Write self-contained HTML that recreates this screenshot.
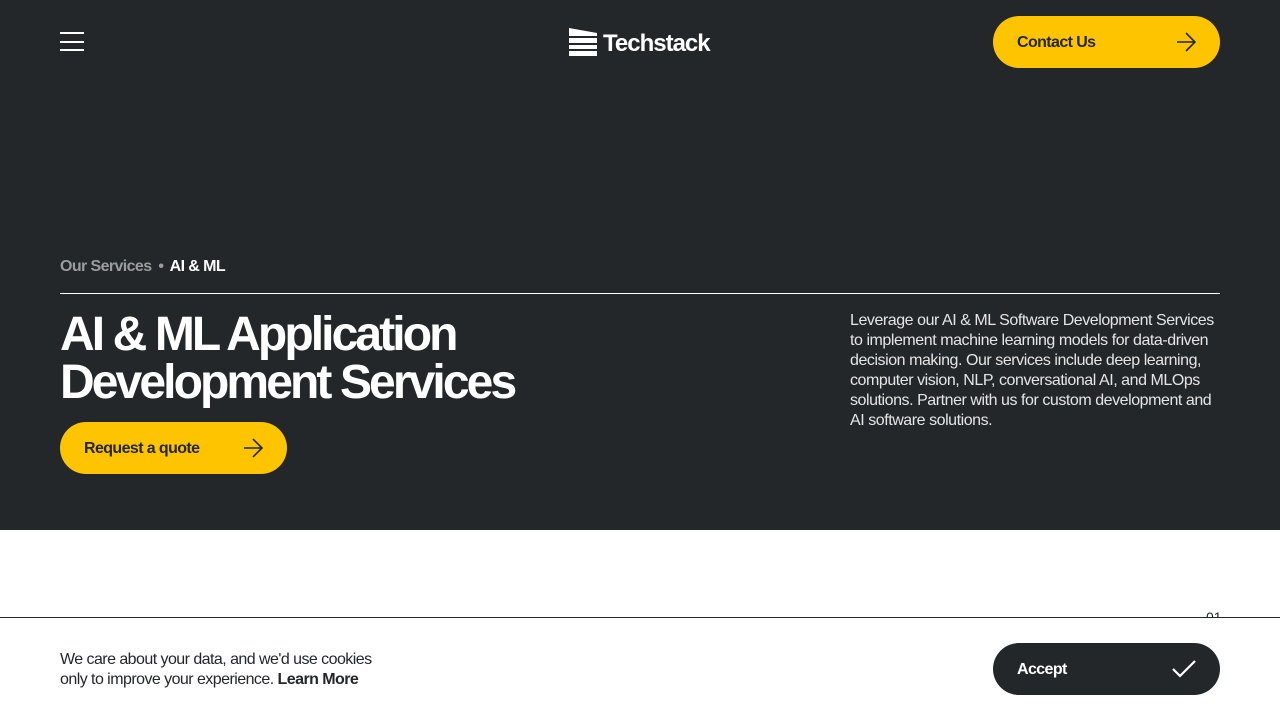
<!DOCTYPE html>
<html><head><meta charset="utf-8"><style>
*{margin:0;padding:0;box-sizing:border-box}
body{width:1280px;height:720px;overflow:hidden;background:#fff;font-family:"Liberation Sans",sans-serif;position:relative}
.hero{position:absolute;left:0;top:0;width:1280px;height:530px;background:#24272a;color:#fff}
.btn{position:absolute;background:#ffc400;border-radius:26px;height:52px;color:#24272a;font-weight:bold;font-size:16px;letter-spacing:-0.6px;display:flex;align-items:center;padding-left:24px;padding-top:1px}
.btn svg{position:absolute;right:24px;top:16px}
</style></head><body>
<div class="hero">
  <div style="position:absolute;left:60px;top:32px;width:24px;height:2px;background:#fff"></div>
  <div style="position:absolute;left:60px;top:41px;width:24px;height:2px;background:#fff"></div>
  <div style="position:absolute;left:60px;top:49px;width:24px;height:2px;background:#fff"></div>
  <svg style="position:absolute;left:569px;top:28px" width="30" height="28"><polygon points="0,0 28,5 28,8 0,8" fill="#fff"/><rect x="0" y="10" width="28" height="5" fill="#fff"/><rect x="0" y="17" width="28" height="4" fill="#fff"/><rect x="0" y="23" width="28" height="5" fill="#fff"/></svg>
  <div style="position:absolute;left:603px;top:29px;font-size:24px;font-weight:bold;letter-spacing:-1px;line-height:30px">Techstack</div>
  <div class="btn" style="left:993px;top:16px;width:227px">Contact Us<svg width="20" height="20" viewBox="0 0 20 20"><path d="M1 10H19M10 1L19 10L10 19" stroke="#24272a" stroke-width="1.6" fill="none"/></svg></div>
  <div style="position:absolute;left:60px;top:258px;font-size:16px;font-weight:bold;letter-spacing:-0.6px"><span style="color:#9a9c9e">Our Services</span> <span style="color:#9a9c9e;margin:0 3px">•</span> AI &amp; ML</div>
  <div style="position:absolute;left:60px;top:293px;width:1160px;height:1px;background:#fff"></div>
  <div style="position:absolute;left:60px;top:311px;font-size:48px;font-weight:bold;letter-spacing:-2.9px;line-height:48px">AI &amp; ML Application<br>Development Services</div>
  <div class="btn" style="left:60px;top:422px;width:227px">Request a quote<svg width="20" height="20" viewBox="0 0 20 20"><path d="M1 10H19M10 1L19 10L10 19" stroke="#24272a" stroke-width="1.6" fill="none"/></svg></div>
  <div style="position:absolute;left:850px;top:311px;width:375px;font-size:16px;line-height:20px;color:#e4e5e6;letter-spacing:-0.45px">Leverage our AI &amp; ML Software Development Services to implement machine learning models for data-driven decision making. Our services include deep learning, computer vision, NLP, conversational AI, and MLOps solutions. Partner with us for custom development and AI software solutions.</div>
</div>
<div style="position:absolute;left:1206px;top:609px;font-size:14px;color:#24272a">01</div>
<div style="position:absolute;left:0;top:617px;width:1280px;height:103px;background:#fff;border-top:1px solid #24272a">
  <div style="position:absolute;left:60px;top:32px;font-size:16px;line-height:20px;color:#24272a;letter-spacing:-0.55px">We care about your data, and we'd use cookies<br>only to improve your experience. <b>Learn More</b></div>
  <div class="btn" style="left:993px;top:25px;width:227px;background:#24272a;color:#fff">Accept<svg width="24" height="20" viewBox="0 0 24 20"><path d="M1 10L8 17L23 2" stroke="#fff" stroke-width="2.2" fill="none"/></svg></div>
</div>
</body></html>
